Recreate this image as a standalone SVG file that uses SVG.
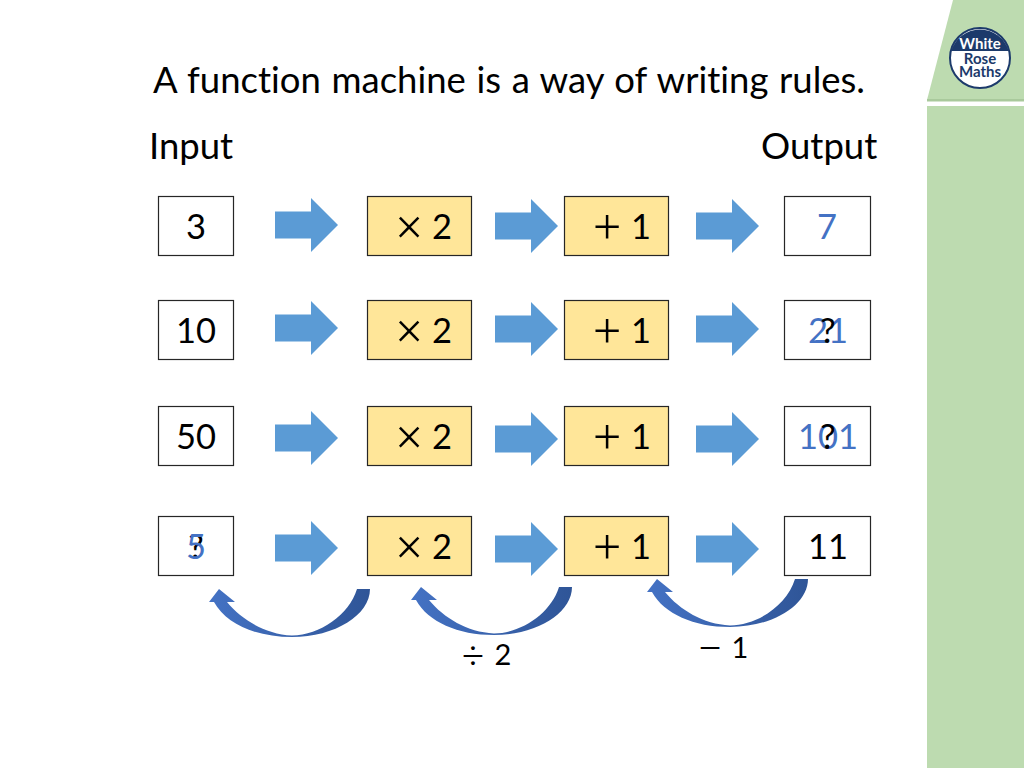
<svg xmlns="http://www.w3.org/2000/svg" width="1024" height="768" viewBox="0 0 1024 768">
<style>
text{font-family:"Lato","Carlito","Open Sans",sans-serif;fill:#000;font-variant-ligatures:none}
.t{font-size:36.500px}
.n{font-size:34.500px;text-anchor:middle}
text.a{fill:#4472c4}
.s{font-size:29px;text-anchor:middle}
.m{font-family:"Liberation Serif","DejaVu Serif",serif;font-size:50px;text-anchor:middle}
.d{font-family:"Liberation Serif","DejaVu Serif",serif;font-size:40px;text-anchor:middle}
.w{fill:#fff;stroke:#262626;stroke-width:1.2}
.y{fill:#ffe699;stroke:#262626;stroke-width:1.2}
.b{fill:#5b9bd5}
</style>
<defs>
<linearGradient id="cg" x1="0" x2="1" y1="0" y2="0"><stop offset="0" stop-color="#4472c4"/><stop offset="1" stop-color="#2f5597"/></linearGradient>
<path id="ba" d="M0,-13.5H36V-27L63,0L36,27V13.5H0Z"/>
<path id="ca" fill="url(#cg)" d="M357,589H370C370,615 335,637 292,637C256,637 226,624 214,602H209L219,589L235,602H227C242,620 265,634 292,635.500C320,635 349,615 357,589Z"/>
</defs>
<g id="panel">
<polygon points="953,0 1024,0 1024,100 927,100" fill="#bddbb0"/>
<rect x="927" y="99" width="97" height="2.500" fill="#a9c99c"/>
<rect x="927" y="106" width="97" height="662" fill="#bddbb0"/>
</g>
<g id="logo">
<circle cx="980" cy="58" r="30" fill="#fff" stroke="#1c3a6b" stroke-width="2"/>
<path d="M951.2,51A30,30 0 0 1 1008.800,51Z" fill="#1c3a6b"/>
<text x="980" y="49" text-anchor="middle" style="font-size:15px;font-weight:700;fill:#fff">White</text>
<text x="980" y="64" text-anchor="middle" style="font-size:15px;font-weight:700;fill:#1c3a6b">Rose</text>
<text x="980" y="77" text-anchor="middle" style="font-size:15px;font-weight:700;fill:#1c3a6b">Maths</text>
</g>
<g id="title"><text class="t" x="509" y="93" text-anchor="middle" word-spacing="1.250">A function machine is a way of writing rules.</text></g>
<g id="input-label"><text class="t" x="149" y="159">Input</text></g>
<g id="output-label"><text class="t" x="761" y="159">Output</text></g>
<g id="connectors">
<use href="#ba" class="b" x="275" y="225"/><use href="#ba" class="b" x="495" y="226"/><use href="#ba" class="b" x="696" y="226"/>
<use href="#ba" class="b" x="275" y="328"/><use href="#ba" class="b" x="495" y="329"/><use href="#ba" class="b" x="696" y="329"/>
<use href="#ba" class="b" x="275" y="438"/><use href="#ba" class="b" x="495" y="439"/><use href="#ba" class="b" x="696" y="439"/>
<use href="#ba" class="b" x="275" y="548"/><use href="#ba" class="b" x="495" y="549"/><use href="#ba" class="b" x="696" y="549"/>
<use href="#ca"/>
<use href="#ca" x="202" y="-2"/>
<use href="#ca" x="438" y="-10"/>
</g>
<g id="in1"><rect class="w" x="158.500" y="196.500" width="75" height="59"/><text class="n" x="196" y="239">3</text></g>
<g id="in2"><rect class="w" x="158.500" y="300.500" width="75" height="59"/><text class="n" x="196" y="343">10</text></g>
<g id="in3"><rect class="w" x="158.500" y="406.500" width="75" height="59"/><text class="n" x="196" y="449">50</text></g>
<g id="in4"><rect class="w" x="158.500" y="516.500" width="75" height="59"/><text class="n" x="196" y="559">?</text><text class="n a" x="196" y="559">5</text></g>
<g id="times1"><rect class="y" x="367.500" y="196.500" width="104" height="59"/><text class="m" x="409" y="243.500">×</text><text class="n" x="442" y="239">2</text></g>
<g id="times2"><rect class="y" x="367.500" y="300.500" width="104" height="59"/><text class="m" x="409" y="347.500">×</text><text class="n" x="442" y="343">2</text></g>
<g id="times3"><rect class="y" x="367.500" y="406.500" width="104" height="59"/><text class="m" x="409" y="453.500">×</text><text class="n" x="442" y="449">2</text></g>
<g id="times4"><rect class="y" x="367.500" y="516.500" width="104" height="59"/><text class="m" x="409" y="563.500">×</text><text class="n" x="442" y="559">2</text></g>
<g id="plus1"><rect class="y" x="564.500" y="196.500" width="104" height="59"/><text class="m" x="607" y="243.500">+</text><text class="n" x="641" y="239">1</text></g>
<g id="plus2"><rect class="y" x="564.500" y="300.500" width="104" height="59"/><text class="m" x="607" y="347.500">+</text><text class="n" x="641" y="343">1</text></g>
<g id="plus3"><rect class="y" x="564.500" y="406.500" width="104" height="59"/><text class="m" x="607" y="453.500">+</text><text class="n" x="641" y="449">1</text></g>
<g id="plus4"><rect class="y" x="564.500" y="516.500" width="104" height="59"/><text class="m" x="607" y="563.500">+</text><text class="n" x="641" y="559">1</text></g>
<g id="out1"><rect class="w" x="784.500" y="196.500" width="86" height="59"/><text class="n a" x="827" y="239">7</text></g>
<g id="out2"><rect class="w" x="784.500" y="300.500" width="86" height="59"/><text class="n a" x="828" y="343">21</text><text class="n" x="828" y="343">?</text></g>
<g id="out3"><rect class="w" x="784.500" y="406.500" width="86" height="59"/><text class="n a" x="828" y="449">101</text><text class="n" x="828" y="449">?</text></g>
<g id="out4"><rect class="w" x="784.500" y="516.500" width="86" height="59"/><text class="n" x="828" y="559">11</text></g>
<g id="label-div"><text class="d" x="473" y="669">÷</text><text class="s" x="503" y="665">2</text></g>
<g id="label-minus"><text class="d" x="710" y="661">−</text><text class="s" x="740" y="658">1</text></g>
</svg>
